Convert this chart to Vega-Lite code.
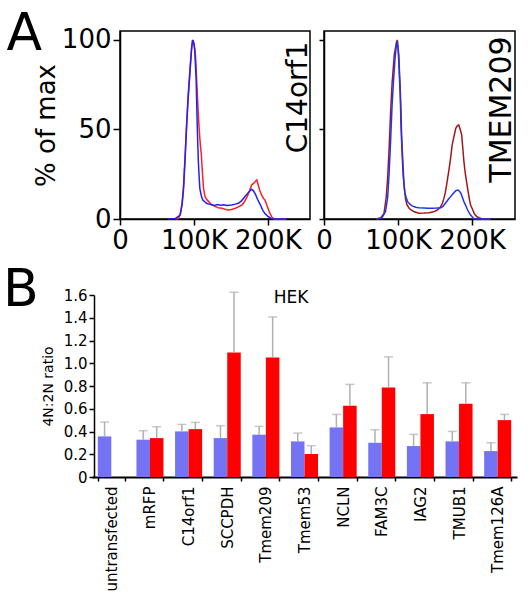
{
  "$schema": "https://vega.github.io/schema/vega-lite/v6.json",
  "padding": {"left": 3, "top": 8, "right": 5, "bottom": 5},
  "background": "white",
  "config": {
    "font": "DejaVu Sans",
    "view": {"stroke": null},
    "axis": {"domainColor": "black", "tickColor": "black", "labelColor": "black", "titleColor": "black", "grid": false, "titleFontWeight": "normal", "labelFlush": false, "labelOverlap": false},
    "title": {"color": "black", "fontWeight": "normal"}
  },
  "resolve": {"scale": {"color": "independent"}},
  "spacing": 10,
  "vconcat": [
    {
      "title": {"text": "A", "anchor": "start", "frame": "bounds", "fontSize": 52, "baseline": "alphabetic", "dx": -26, "offset": -76},
      "spacing": 0,
      "resolve": {"scale": {"color": "independent"}},
      "hconcat": [
        {
          "width": 190,
          "height": 188,
          "view": {"stroke": "black", "strokeWidth": 1.5},
          "layer": [
            {
              "data": {"values": [
                {"series": "C14orf1", "dna": 75, "pct": 0}, {"series": "C14orf1", "dna": 79, "pct": 0.3}, {"series": "C14orf1", "dna": 82, "pct": 3}, {"series": "C14orf1", "dna": 84, "pct": 9}, {"series": "C14orf1", "dna": 86, "pct": 19}, {"series": "C14orf1", "dna": 88, "pct": 35}, {"series": "C14orf1", "dna": 90, "pct": 52}, {"series": "C14orf1", "dna": 92, "pct": 68}, {"series": "C14orf1", "dna": 95, "pct": 86}, {"series": "C14orf1", "dna": 97, "pct": 96}, {"series": "C14orf1", "dna": 99, "pct": 100}, {"series": "C14orf1", "dna": 100, "pct": 98}, {"series": "C14orf1", "dna": 102, "pct": 92}, {"series": "C14orf1", "dna": 103, "pct": 84}, {"series": "C14orf1", "dna": 104, "pct": 75}, {"series": "C14orf1", "dna": 105, "pct": 66}, {"series": "C14orf1", "dna": 106, "pct": 58}, {"series": "C14orf1", "dna": 107, "pct": 51}, {"series": "C14orf1", "dna": 108, "pct": 45}, {"series": "C14orf1", "dna": 109, "pct": 40}, {"series": "C14orf1", "dna": 110, "pct": 36}, {"series": "C14orf1", "dna": 111, "pct": 29}, {"series": "C14orf1", "dna": 112, "pct": 23}, {"series": "C14orf1", "dna": 113, "pct": 17}, {"series": "C14orf1", "dna": 115, "pct": 12.5}, {"series": "C14orf1", "dna": 117, "pct": 11}, {"series": "C14orf1", "dna": 120, "pct": 9.7}, {"series": "C14orf1", "dna": 124, "pct": 8}, {"series": "C14orf1", "dna": 129, "pct": 6.9}, {"series": "C14orf1", "dna": 133, "pct": 6.3}, {"series": "C14orf1", "dna": 138, "pct": 6}, {"series": "C14orf1", "dna": 142, "pct": 5.5}, {"series": "C14orf1", "dna": 147, "pct": 5}, {"series": "C14orf1", "dna": 151, "pct": 5.3}, {"series": "C14orf1", "dna": 156, "pct": 6}, {"series": "C14orf1", "dna": 160, "pct": 6.8}, {"series": "C14orf1", "dna": 165, "pct": 7.8}, {"series": "C14orf1", "dna": 168, "pct": 9.5}, {"series": "C14orf1", "dna": 172, "pct": 12.5}, {"series": "C14orf1", "dna": 175, "pct": 15.5}, {"series": "C14orf1", "dna": 178, "pct": 19}, {"series": "C14orf1", "dna": 181, "pct": 20}, {"series": "C14orf1", "dna": 183, "pct": 21}, {"series": "C14orf1", "dna": 185, "pct": 21.8}, {"series": "C14orf1", "dna": 186, "pct": 20.5}, {"series": "C14orf1", "dna": 187, "pct": 19}, {"series": "C14orf1", "dna": 189, "pct": 16}, {"series": "C14orf1", "dna": 192, "pct": 13}, {"series": "C14orf1", "dna": 194, "pct": 11.5}, {"series": "C14orf1", "dna": 196, "pct": 10.6}, {"series": "C14orf1", "dna": 198, "pct": 8.5}, {"series": "C14orf1", "dna": 201, "pct": 5}, {"series": "C14orf1", "dna": 203, "pct": 3}, {"series": "C14orf1", "dna": 205, "pct": 1.3}, {"series": "C14orf1", "dna": 207, "pct": 0.5}, {"series": "C14orf1", "dna": 209, "pct": 0}, {"series": "C14orf1", "dna": 225, "pct": 0},
                {"series": "control", "dna": 65, "pct": 0}, {"series": "control", "dna": 75, "pct": 0.3}, {"series": "control", "dna": 81, "pct": 2}, {"series": "control", "dna": 84, "pct": 8}, {"series": "control", "dna": 86, "pct": 17}, {"series": "control", "dna": 88, "pct": 33}, {"series": "control", "dna": 90, "pct": 51}, {"series": "control", "dna": 92, "pct": 66}, {"series": "control", "dna": 95, "pct": 84}, {"series": "control", "dna": 97, "pct": 96}, {"series": "control", "dna": 98, "pct": 100}, {"series": "control", "dna": 100, "pct": 98}, {"series": "control", "dna": 101, "pct": 95}, {"series": "control", "dna": 103, "pct": 78}, {"series": "control", "dna": 104, "pct": 60}, {"series": "control", "dna": 105, "pct": 45}, {"series": "control", "dna": 106, "pct": 32}, {"series": "control", "dna": 107, "pct": 24}, {"series": "control", "dna": 108, "pct": 17}, {"series": "control", "dna": 110, "pct": 13}, {"series": "control", "dna": 112, "pct": 10.6}, {"series": "control", "dna": 115, "pct": 9.5}, {"series": "control", "dna": 117, "pct": 8.8}, {"series": "control", "dna": 120, "pct": 8.3}, {"series": "control", "dna": 124, "pct": 8}, {"series": "control", "dna": 128, "pct": 7.6}, {"series": "control", "dna": 132, "pct": 8.1}, {"series": "control", "dna": 136, "pct": 7.7}, {"series": "control", "dna": 140, "pct": 7.9}, {"series": "control", "dna": 145, "pct": 7.6}, {"series": "control", "dna": 151, "pct": 7.8}, {"series": "control", "dna": 156, "pct": 8.3}, {"series": "control", "dna": 160, "pct": 8.8}, {"series": "control", "dna": 164, "pct": 10}, {"series": "control", "dna": 167, "pct": 11.5}, {"series": "control", "dna": 171, "pct": 13.5}, {"series": "control", "dna": 174, "pct": 15}, {"series": "control", "dna": 178, "pct": 16.6}, {"series": "control", "dna": 180, "pct": 16}, {"series": "control", "dna": 183, "pct": 14}, {"series": "control", "dna": 186, "pct": 11}, {"series": "control", "dna": 190, "pct": 7.8}, {"series": "control", "dna": 193, "pct": 5}, {"series": "control", "dna": 196, "pct": 3}, {"series": "control", "dna": 200, "pct": 1.5}, {"series": "control", "dna": 203, "pct": 0.7}, {"series": "control", "dna": 205, "pct": 0.2}, {"series": "control", "dna": 210, "pct": 0}, {"series": "control", "dna": 225, "pct": 0}
              ]},
              "mark": {"type": "line", "strokeWidth": 1.5},
              "encoding": {
                "x": {"field": "dna", "type": "quantitative", "scale": {"domain": [0, 257], "nice": false},
                  "axis": {"values": [0, 100, 200], "labelExpr": "datum.value == 0 ? '0' : datum.value + 'K'", "labelFontSize": 26, "tickSize": 6, "tickWidth": 1.5, "domainWidth": 1.5, "labelPadding": 2, "title": null, "labelOverlap": false, "labelFlush": false}},
                "y": {"field": "pct", "type": "quantitative", "scale": {"domain": [0, 105], "nice": false},
                  "axis": {"values": [0, 50, 100], "labelFontSize": 26, "tickSize": 7, "tickWidth": 1.5, "domainWidth": 1.5, "labelPadding": 2, "title": "% of max", "titleFontSize": 26, "titlePadding": 2, "labelOverlap": false, "labelFlush": false}},
                "color": {"field": "series", "type": "nominal", "scale": {"domain": ["C14orf1", "control"], "range": ["#ff2020", "#2020ff"]}, "legend": null}
              }
            },
            {
              "data": {"values": [{"label": "C14orf1", "dna": 253, "pct": 99}]},
              "mark": {"type": "text", "angle": 270, "align": "right", "baseline": "alphabetic", "fontSize": 28},
              "encoding": {
                "x": {"field": "dna", "type": "quantitative"},
                "y": {"field": "pct", "type": "quantitative"},
                "text": {"field": "label"}
              }
            }
          ]
        },
        {
          "width": 191,
          "height": 188,
          "view": {"stroke": "black", "strokeWidth": 1.5},
          "layer": [
            {
              "data": {"values": [
                {"series": "TMEM209", "dna": 70, "pct": 0}, {"series": "TMEM209", "dna": 76, "pct": 0.5}, {"series": "TMEM209", "dna": 81, "pct": 3}, {"series": "TMEM209", "dna": 84, "pct": 12}, {"series": "TMEM209", "dna": 86, "pct": 23}, {"series": "TMEM209", "dna": 88, "pct": 40}, {"series": "TMEM209", "dna": 90, "pct": 60}, {"series": "TMEM209", "dna": 92, "pct": 76}, {"series": "TMEM209", "dna": 95, "pct": 92}, {"series": "TMEM209", "dna": 98, "pct": 99}, {"series": "TMEM209", "dna": 99, "pct": 100}, {"series": "TMEM209", "dna": 101, "pct": 92}, {"series": "TMEM209", "dna": 102, "pct": 82}, {"series": "TMEM209", "dna": 103, "pct": 72}, {"series": "TMEM209", "dna": 104, "pct": 60}, {"series": "TMEM209", "dna": 105, "pct": 45}, {"series": "TMEM209", "dna": 107, "pct": 28}, {"series": "TMEM209", "dna": 108, "pct": 20}, {"series": "TMEM209", "dna": 110, "pct": 11.5}, {"series": "TMEM209", "dna": 112, "pct": 8}, {"series": "TMEM209", "dna": 115, "pct": 6}, {"series": "TMEM209", "dna": 118, "pct": 5}, {"series": "TMEM209", "dna": 122, "pct": 4}, {"series": "TMEM209", "dna": 128, "pct": 3.2}, {"series": "TMEM209", "dna": 135, "pct": 3.3}, {"series": "TMEM209", "dna": 142, "pct": 3.5}, {"series": "TMEM209", "dna": 148, "pct": 4}, {"series": "TMEM209", "dna": 153, "pct": 5}, {"series": "TMEM209", "dna": 157, "pct": 6.5}, {"series": "TMEM209", "dna": 160, "pct": 8.8}, {"series": "TMEM209", "dna": 162, "pct": 11.5}, {"series": "TMEM209", "dna": 164, "pct": 15}, {"series": "TMEM209", "dna": 166, "pct": 20}, {"series": "TMEM209", "dna": 169, "pct": 28}, {"series": "TMEM209", "dna": 171, "pct": 34}, {"series": "TMEM209", "dna": 173, "pct": 41}, {"series": "TMEM209", "dna": 175, "pct": 45}, {"series": "TMEM209", "dna": 178, "pct": 50.6}, {"series": "TMEM209", "dna": 180, "pct": 52}, {"series": "TMEM209", "dna": 182, "pct": 52.5}, {"series": "TMEM209", "dna": 184, "pct": 50}, {"series": "TMEM209", "dna": 186, "pct": 47}, {"series": "TMEM209", "dna": 187, "pct": 42}, {"series": "TMEM209", "dna": 189, "pct": 32}, {"series": "TMEM209", "dna": 191, "pct": 25}, {"series": "TMEM209", "dna": 194, "pct": 17}, {"series": "TMEM209", "dna": 196, "pct": 12}, {"series": "TMEM209", "dna": 198, "pct": 7.8}, {"series": "TMEM209", "dna": 201, "pct": 5}, {"series": "TMEM209", "dna": 203, "pct": 3}, {"series": "TMEM209", "dna": 206, "pct": 1.5}, {"series": "TMEM209", "dna": 209, "pct": 0.7}, {"series": "TMEM209", "dna": 214, "pct": 0}, {"series": "TMEM209", "dna": 225, "pct": 0},
                {"series": "control", "dna": 72, "pct": 0}, {"series": "control", "dna": 78, "pct": 0.5}, {"series": "control", "dna": 83, "pct": 4}, {"series": "control", "dna": 86, "pct": 12}, {"series": "control", "dna": 88, "pct": 26}, {"series": "control", "dna": 90, "pct": 44}, {"series": "control", "dna": 92, "pct": 64}, {"series": "control", "dna": 94, "pct": 78}, {"series": "control", "dna": 96, "pct": 90}, {"series": "control", "dna": 98, "pct": 98}, {"series": "control", "dna": 99, "pct": 99}, {"series": "control", "dna": 100, "pct": 95}, {"series": "control", "dna": 101, "pct": 88}, {"series": "control", "dna": 103, "pct": 69}, {"series": "control", "dna": 104, "pct": 52}, {"series": "control", "dna": 106, "pct": 32}, {"series": "control", "dna": 107, "pct": 24}, {"series": "control", "dna": 109, "pct": 15}, {"series": "control", "dna": 111, "pct": 12}, {"series": "control", "dna": 113, "pct": 9.7}, {"series": "control", "dna": 116, "pct": 8.3}, {"series": "control", "dna": 119, "pct": 7.3}, {"series": "control", "dna": 124, "pct": 6.6}, {"series": "control", "dna": 128, "pct": 6.3}, {"series": "control", "dna": 135, "pct": 6.1}, {"series": "control", "dna": 140, "pct": 6}, {"series": "control", "dna": 146, "pct": 6}, {"series": "control", "dna": 152, "pct": 6.1}, {"series": "control", "dna": 158, "pct": 6.3}, {"series": "control", "dna": 161, "pct": 7.2}, {"series": "control", "dna": 164, "pct": 8.8}, {"series": "control", "dna": 168, "pct": 11}, {"series": "control", "dna": 171, "pct": 12.5}, {"series": "control", "dna": 174, "pct": 14}, {"series": "control", "dna": 178, "pct": 15.8}, {"series": "control", "dna": 181, "pct": 16.2}, {"series": "control", "dna": 183, "pct": 15.5}, {"series": "control", "dna": 185, "pct": 14.3}, {"series": "control", "dna": 187, "pct": 12}, {"series": "control", "dna": 189, "pct": 9.7}, {"series": "control", "dna": 192, "pct": 7}, {"series": "control", "dna": 194, "pct": 5}, {"series": "control", "dna": 196, "pct": 3.5}, {"series": "control", "dna": 198, "pct": 2.2}, {"series": "control", "dna": 201, "pct": 0.8}, {"series": "control", "dna": 203, "pct": 0}, {"series": "control", "dna": 225, "pct": 0}
              ]},
              "mark": {"type": "line", "strokeWidth": 1.5},
              "encoding": {
                "x": {"field": "dna", "type": "quantitative", "scale": {"domain": [0, 258], "nice": false},
                  "axis": {"values": [0, 100, 200], "labelExpr": "datum.value == 0 ? '0' : datum.value + 'K'", "labelFontSize": 26, "tickSize": 6, "tickWidth": 1.5, "domainWidth": 1.5, "labelPadding": 2, "title": null, "labelOverlap": false, "labelFlush": false}},
                "y": {"field": "pct", "type": "quantitative", "scale": {"domain": [0, 105], "nice": false},
                  "axis": {"values": [0, 50, 100], "labels": false, "tickSize": 5, "tickWidth": 1.5, "domainWidth": 1.5, "title": null}},
                "color": {"field": "series", "type": "nominal", "scale": {"domain": ["TMEM209", "control"], "range": ["#a3171c", "#2233ee"]}, "legend": null}
              }
            },
            {
              "data": {"values": [{"label": "TMEM209", "dna": 252, "pct": 102}]},
              "mark": {"type": "text", "angle": 270, "align": "right", "baseline": "alphabetic", "fontSize": 30},
              "encoding": {
                "x": {"field": "dna", "type": "quantitative"},
                "y": {"field": "pct", "type": "quantitative"},
                "text": {"field": "label"}
              }
            }
          ]
        }
      ]
    },
    {
      "title": {"text": "B", "anchor": "start", "frame": "group", "fontSize": 52, "baseline": "alphabetic", "dx": -117, "offset": -70},
      "width": 397,
      "height": 182,
      "data": {"values": [
        {"construct": "untransfected", "condition": "control", "ratio": 0.357, "upper": 0.483},
        {"construct": "mRFP", "condition": "control", "ratio": 0.328, "upper": 0.407},
        {"construct": "mRFP", "condition": "transfected", "ratio": 0.342, "upper": 0.442},
        {"construct": "C14orf1", "condition": "control", "ratio": 0.401, "upper": 0.462},
        {"construct": "C14orf1", "condition": "transfected", "ratio": 0.421, "upper": 0.48},
        {"construct": "SCCPDH", "condition": "control", "ratio": 0.342, "upper": 0.451},
        {"construct": "SCCPDH", "condition": "transfected", "ratio": 1.095, "upper": 1.624},
        {"construct": "Tmem209", "condition": "control", "ratio": 0.372, "upper": 0.445},
        {"construct": "Tmem209", "condition": "transfected", "ratio": 1.051, "upper": 1.407},
        {"construct": "Tmem53", "condition": "control", "ratio": 0.313, "upper": 0.386},
        {"construct": "Tmem53", "condition": "transfected", "ratio": 0.202, "upper": 0.275},
        {"construct": "NCLN", "condition": "control", "ratio": 0.436, "upper": 0.55},
        {"construct": "NCLN", "condition": "transfected", "ratio": 0.626, "upper": 0.814},
        {"construct": "FAM3C", "condition": "control", "ratio": 0.301, "upper": 0.416},
        {"construct": "FAM3C", "condition": "transfected", "ratio": 0.787, "upper": 1.056},
        {"construct": "IAG2", "condition": "control", "ratio": 0.272, "upper": 0.375},
        {"construct": "IAG2", "condition": "transfected", "ratio": 0.553, "upper": 0.828},
        {"construct": "TMUB1", "condition": "control", "ratio": 0.313, "upper": 0.401},
        {"construct": "TMUB1", "condition": "transfected", "ratio": 0.644, "upper": 0.828},
        {"construct": "Tmem126A", "condition": "control", "ratio": 0.228, "upper": 0.301},
        {"construct": "Tmem126A", "condition": "transfected", "ratio": 0.5, "upper": 0.55}
      ]},
      "encoding": {
        "x": {"field": "construct", "type": "nominal",
          "scale": {"domain": ["untransfected", "mRFP", "C14orf1", "SCCPDH", "Tmem209", "Tmem53", "NCLN", "FAM3C", "IAG2", "TMUB1", "Tmem126A"], "range": [-28, 397], "paddingInner": 0.3, "paddingOuter": 0.15},
          "axis": {"title": null, "labelAngle": 270, "labelFontSize": 15, "tickBand": "extent", "tickSize": 4, "tickWidth": 1.5, "domainWidth": 2, "labelPadding": 5}},
        "xOffset": {"field": "condition", "type": "nominal", "scale": {"domain": ["control", "transfected"], "paddingInner": 0, "paddingOuter": 0}},
        "y": {"field": "ratio", "type": "quantitative", "scale": {"domain": [0, 1.6], "nice": false},
          "axis": {"values": [0, 0.2, 0.4, 0.6, 0.8, 1.0, 1.2, 1.4, 1.6], "labelExpr": "datum.value == 0 ? '0' : format(datum.value, '.1f')", "labelFontSize": 15, "tickSize": 5, "tickWidth": 1.5, "domainWidth": 1.5, "labelPadding": 2, "offset": 26, "title": "4N:2N ratio", "titleFontSize": 14, "titlePadding": 8, "labelOverlap": false, "labelFlush": false}}
      },
      "layer": [
        {
          "mark": {"type": "bar"},
          "encoding": {
            "color": {"field": "condition", "type": "nominal", "scale": {"domain": ["control", "transfected"], "range": ["#7373f3", "#ff0000"]}, "legend": null}
          }
        },
        {
          "mark": {"type": "rule", "color": "#b0b0b0", "strokeWidth": 1.5},
          "encoding": {
            "y2": {"field": "upper"}
          }
        },
        {
          "mark": {"type": "tick", "color": "#b0b0b0", "thickness": 1.5, "size": 9},
          "encoding": {
            "y": {"field": "upper", "type": "quantitative", "axis": {"values": [0, 0.2, 0.4, 0.6, 0.8, 1.0, 1.2, 1.4, 1.6], "labelExpr": "datum.value == 0 ? '0' : format(datum.value, '.1f')", "labelFontSize": 15, "tickSize": 5, "tickWidth": 1.5, "domainWidth": 1.5, "labelPadding": 2, "offset": 26, "title": "4N:2N ratio", "titleFontSize": 14, "titlePadding": 8, "labelOverlap": false, "labelFlush": false}}
          }
        },
        {
          "data": {"values": [{"construct": "Tmem53", "label": "HEK", "ratio": 1.57}]},
          "mark": {"type": "text", "fontSize": 17, "baseline": "middle"},
          "encoding": {
            "xOffset": {"value": 0},
            "text": {"field": "label"}
          }
        }
      ]
    }
  ]
}
